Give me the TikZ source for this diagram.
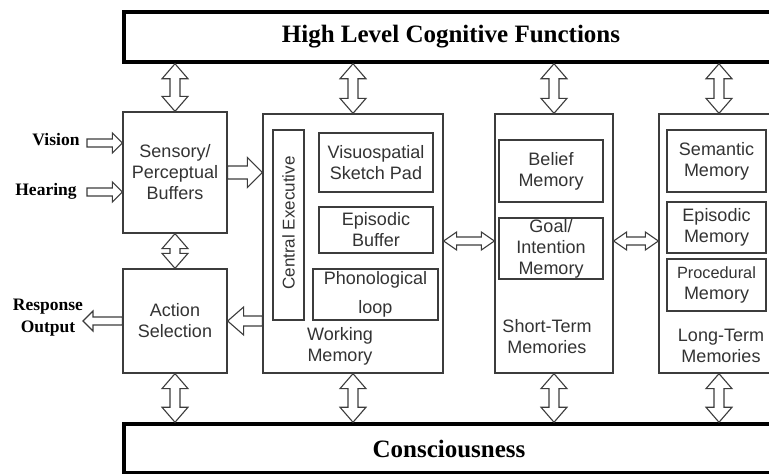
\documentclass[tikz,border=0pt]{standalone}
\usepackage{fontspec}
\setmainfont{Liberation Serif}
\newfontfamily\arialf{Liberation Sans}
\usetikzlibrary{calc}
\definecolor{boxc}{HTML}{3C3C3C}
\definecolor{txtc}{HTML}{333333}
\tikzset{
 box/.style={draw=boxc, line width=1.3pt, inner sep=0pt},
 btxt/.style={font=\arialf\fontsize{18}{21}\selectfont, text=txtc, align=center},
 lbl/.style={font=\bfseries\fontsize{17.5}{22}\selectfont, align=center, inner sep=0pt},
 big/.style={draw=black, line width=3.5pt, inner sep=0pt},
 bigtxt/.style={font=\bfseries\fontsize{25}{30}\selectfont, inner sep=0pt},
 arr/.style={draw=boxc, line width=1.1pt, fill=white, line join=miter},
}
\newcommand{\vdarrow}[2]{\draw[arr] let \p1=#1, \p2=#2 in
 (\x1,\y1) -- (\x1+13pt,\y1-15pt) -- (\x1+5pt,\y1-15pt) -- (\x1+5pt,\y2+15pt) -- (\x1+13pt,\y2+15pt) -- (\x1,\y2) -- (\x1-13pt,\y2+15pt) -- (\x1-5pt,\y2+15pt) -- (\x1-5pt,\y1-15pt) -- (\x1-13pt,\y1-15pt) -- cycle;}
\newcommand{\hdarrow}[5]{\draw[arr] let \p1=#1, \p2=#2 in
 (\x1,\y1) -- (\x1+#5,\y1+#4) -- (\x1+#5,\y1+#3) -- (\x2-#5,\y1+#3) -- (\x2-#5,\y1+#4) -- (\x2,\y1) -- (\x2-#5,\y1-#4) -- (\x2-#5,\y1-#3) -- (\x1+#5,\y1-#3) -- (\x1+#5,\y1-#4) -- cycle;}
\newcommand{\sarrow}[5]{\draw[arr] let \p1=#1, \p2=#2, \p3=($#2!#5!#1$) in
 (\x1,\y1+#3) -- (\x3,\y1+#3) -- (\x3,\y1+#4) -- (\x2,\y1) -- (\x3,\y1-#4) -- (\x3,\y1-#3) -- (\x1,\y1-#3) -- cycle;}
\begin{document}
\begin{tikzpicture}[x=1pt,y=-1pt]
\useasboundingbox[fill=white] (0,0) rectangle (769,474);
% big bars
\node[big, minimum width=676pt, minimum height=50pt] (hl) at (462,37) {};
\node[bigtxt] (hltxt) at (451,37) {High Level Cognitive Functions};
\node[big, minimum width=676pt, minimum height=49pt] (cons) at (462,448.5) {};
\node[bigtxt] (constxt) at (449,449) {Consciousness};
% left column
\node[box, btxt, minimum width=104pt, minimum height=121pt] (sens) at (175,172.5) {Sensory/\\Perceptual\\Buffers};
\node[box, btxt, minimum width=104pt, minimum height=104pt] (act) at (175,321) {Action\\Selection};
% working memory
\node[box, minimum width=180pt, minimum height=259pt] (wm) at (353,243.5) {};
\node[box, minimum width=31pt, minimum height=190pt] (ce) at (288.5,225) {};
\node[btxt, font=\arialf\fontsize{17}{20}\selectfont, rotate=90] (cetxt) at (288.5,223) {Central Executive};
\node[box, btxt, minimum width=114pt, minimum height=59pt] (vs) at (376,162.5) {Visuospatial\\Sketch Pad};
\node[box, btxt, minimum width=114pt, minimum height=46pt] (eb) at (376,230) {Episodic\\Buffer};
\node[box, btxt, minimum width=125pt, minimum height=51pt] (pl) at (375.5,294.5) {Phonological\\[8pt]loop};
\node[btxt] (wmtxt) at (340,346) {Working\\Memory};
% short-term
\node[box, minimum width=118pt, minimum height=259pt] (stm) at (554,243.5) {};
\node[box, btxt, minimum width=104pt, minimum height=62pt] (bel) at (551,171) {Belief\\Memory};
\node[box, btxt, minimum width=104pt, minimum height=61pt] (goal) at (551,248.5) {Goal/\\Intention\\Memory};
\node[btxt] (stmtxt) at (547,336.5) {Short-Term\\Memories};
% long-term
\node[box, minimum width=120pt, minimum height=259pt] (ltm) at (719,243.5) {};
\node[box, btxt, minimum width=99pt, minimum height=62pt] (sem) at (716.5,161) {Semantic\\Memory};
\node[box, btxt, minimum width=99pt, minimum height=51pt] (epm) at (716.5,227.5) {Episodic\\Memory};
\node[box, btxt, minimum width=99pt, minimum height=52pt] (proc) at (716.5,285) {{\fontsize{16.3}{20}\selectfont Procedural}\\Memory};
\node[btxt] (ltmtxt) at (721,346) {Long-Term\\Memories};
% side labels
\node[lbl] (vision) at (56,140) {Vision};
\node[lbl] (hearing) at (46,191) {Hearing};
\node[lbl] (resp) at (48,318) {Response\\Output};
\coordinate (visend) at (87,143);
\coordinate (heaend) at (87,192);
\coordinate (respend) at (83,321);
\coordinate (midrow) at (0,241);
% vertical double arrows
\vdarrow{(sens.north |- hl.south)}{(sens.north)}
\vdarrow{(wm.north |- hl.south)}{(wm.north)}
\vdarrow{(stm.north |- hl.south)}{(stm.north)}
\vdarrow{(ltm.north |- hl.south)}{(ltm.north)}
\vdarrow{(sens.south)}{(act.north)}
\vdarrow{(act.south)}{(act.south |- cons.north)}
\vdarrow{(wm.south)}{(wm.south |- cons.north)}
\vdarrow{(stm.south)}{(stm.south |- cons.north)}
\vdarrow{(ltm.south)}{(ltm.south |- cons.north)}
% horizontal arrows
\sarrow{(visend)}{(visend -| sens.west)}{4pt}{10pt}{10pt}
\sarrow{(heaend)}{(heaend -| sens.west)}{4pt}{10pt}{10pt}
\sarrow{(sens.east)}{(sens.east -| wm.west)}{6.5pt}{15pt}{15pt}
\sarrow{(wm.west |- act.east)}{(act.east)}{5pt}{14pt}{16pt}
\sarrow{(act.west)}{(respend)}{4pt}{10pt}{10pt}
\hdarrow{(wm.east |- midrow)}{(stm.west |- midrow)}{4pt}{9pt}{13pt}
\hdarrow{(stm.east |- midrow)}{(ltm.west |- midrow)}{4pt}{9pt}{13pt}
\end{tikzpicture}
\end{document}
